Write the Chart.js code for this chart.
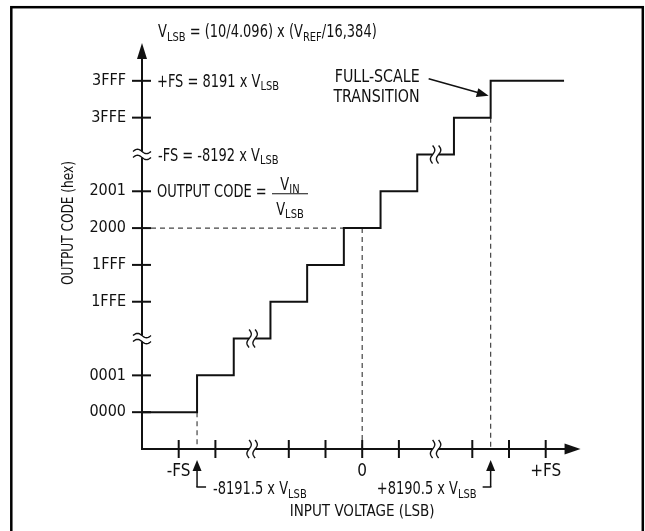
<!DOCTYPE html>
<html>
<head>
<meta charset="utf-8">
<script src="https://cdn.jsdelivr.net/npm/chart.js@4.4.0/dist/chart.umd.min.js"></script>
<style>
  html, body { margin: 0; padding: 0; background: #fff; }
  canvas { display: block; }
</style>
</head>
<body>
<canvas id="chart" width="645" height="531"></canvas>
<script>
// one slot per LSB step on both axes, '' slots hold the axis breaks
const codeLabels = ['0000', '0001', '', '1FFE', '1FFF', '2000', '2001', '', '3FFE', '3FFF'];
const codeBreaks = [2, 7];
const inputLabels = ['-FS', '', '', '', '', '0', '', '', '', '', '+FS'];
const inputBreaks = [2, 7];

// transfer function: input at which each new code starts
const transitions = [0.5, 1.5, 2.5, 3.5, 4.5, 5.5, 6.5, 7.5, 8.5];
const codes = [0, 1, 2, 3, 4, 5, 6, 7, 8, 9];
const inputStart = -1;
const inputEnd = 10.5;
const zeroInput = 5;
const midCode = 5;

// annotation text, [text, isSubscript]
const lsbFormula = [['V', 0], ['LSB', 1], [' = (10/4.096) x (V', 0], ['REF', 1], ['/16,384)', 0]];
const fsHighNote = [['+FS = 8191 x V', 0], ['LSB', 1]];
const fsLowNote = [['-FS = -8192 x V', 0], ['LSB', 1]];
const codeNote = [['OUTPUT CODE =', 0]];
const codeNum = [['V', 0], ['IN', 1]];
const codeDen = [['V', 0], ['LSB', 1]];
const firstNote = [['-8191.5 x V', 0], ['LSB', 1]];
const lastNote = [['+8190.5 x V', 0], ['LSB', 1]];
const fullScaleNote = ['FULL-SCALE', 'TRANSITION'];
const yTitle = 'OUTPUT CODE (hex)';

const FONT = '"DejaVu Sans Condensed", "Liberation Sans Narrow", sans-serif';
const INK = '#111';
const NARROW = 0.85;

// staircase corners
const stairs = [{ x: inputStart, y: codes[0] }];
transitions.forEach((t, i) => {
  stairs.push({ x: t, y: codes[i] });
  stairs.push({ x: t, y: codes[i + 1] });
});
stairs.push({ x: inputEnd, y: codes[codes.length - 1] });

const last = transitions.length - 1;
const dashed = (pts) => ({
  data: pts,
  showLine: true,
  borderColor: '#444',
  borderWidth: 1.2,
  borderDash: [5, 4],
  pointRadius: 0,
  clip: false
});

// text with subscripts, squeezed horizontally to look like a condensed face
function richText(ctx, parts, x, y, size, align, sx = NARROW) {
  const subSize = Math.round(size * 0.75);
  let w = 0;
  parts.forEach(([t, s]) => {
    ctx.font = (s ? subSize : size) + 'px ' + FONT;
    w += ctx.measureText(t).width * sx;
  });
  const x0 = align === 'right' ? x - w : align === 'center' ? x - w / 2 : x;
  const base = y + size * 0.36;
  ctx.save();
  ctx.translate(x0, 0);
  ctx.scale(sx, 1);
  ctx.textAlign = 'left';
  ctx.textBaseline = 'alphabetic';
  let cx = 0;
  parts.forEach(([t, s]) => {
    ctx.font = (s ? subSize : size) + 'px ' + FONT;
    ctx.fillText(t, cx, s ? base + size * 0.2 : base);
    cx += ctx.measureText(t).width;
  });
  ctx.restore();
}

function seg(ctx, x1, y1, x2, y2) {
  ctx.beginPath();
  ctx.moveTo(x1, y1);
  ctx.lineTo(x2, y2);
  ctx.stroke();
}

function head(ctx, x, y, ang, len, half) {
  ctx.save();
  ctx.translate(x, y);
  ctx.rotate(ang);
  ctx.beginPath();
  ctx.moveTo(0, 0);
  ctx.lineTo(-len, -half);
  ctx.lineTo(-len, half);
  ctx.closePath();
  ctx.fill();
  ctx.restore();
}

// break mark: two wavy strokes across a line
function breakMark(ctx, cx, cy, across) {
  ctx.save();
  ctx.fillStyle = '#fff';
  if (across === 'v') ctx.fillRect(cx - 3, cy - 2, 6, 4);
  else ctx.fillRect(cx - 2, cy - 3, 4, 6);
  ctx.lineWidth = 1.4;
  [-3, 3].forEach(off => {
    ctx.beginPath();
    for (let k = 0; k <= 20; k++) {
      const t = -1 + k / 10;
      let px, py;
      if (across === 'v') { px = cx + off - 2.2 * Math.sin(Math.PI * t); py = cy + 9 * t; }
      else { px = cx + 9 * t; py = cy + off + 2.2 * Math.sin(Math.PI * t); }
      if (k === 0) ctx.moveTo(px, py); else ctx.lineTo(px, py);
    }
    ctx.stroke();
  });
  ctx.restore();
}

const drawing = {
  id: 'drawing',
  beforeDraw(chart) {
    const { ctx, width, height } = chart;
    ctx.save();
    ctx.fillStyle = '#fff';
    ctx.fillRect(0, 0, width, height);
    ctx.restore();
  },
  afterDatasetsDraw(chart) {
    const { ctx, scales: { x, y } } = chart;
    const px = v => x.getPixelForValue(v);
    const py = v => y.getPixelForValue(v);
    const ox = px(-1), oy = py(-1);
    ctx.save();
    ctx.strokeStyle = INK;
    ctx.fillStyle = INK;
    ctx.lineWidth = 2;

    // axes with arrows
    const xTip = px(10.95), yTip = py(10.03);
    seg(ctx, ox, oy, xTip - 12, oy);
    seg(ctx, ox, oy + 1, ox, yTip + 12);
    head(ctx, xTip, oy, 0, 16, 5.5);
    head(ctx, ox, yTip, -Math.PI / 2, 16, 5);

    inputLabels.forEach((_, i) => {
      if (!inputBreaks.includes(i)) seg(ctx, px(i), oy - 9, px(i), oy + 9);
    });
    codeLabels.forEach((_, i) => {
      if (!codeBreaks.includes(i)) seg(ctx, ox - 10, py(i), ox + 9, py(i));
    });
    inputBreaks.forEach(i => breakMark(ctx, px(i), oy, 'v'));
    codeBreaks.forEach(i => breakMark(ctx, ox, py(i), 'h'));
    codeBreaks.forEach(i => breakMark(ctx, px(i), py(i), 'v'));

    // y title
    ctx.save();
    ctx.translate(69, 223);
    ctx.rotate(-Math.PI / 2);
    ctx.scale(0.9, 1);
    ctx.font = '15px ' + FONT;
    ctx.textAlign = 'center';
    ctx.textBaseline = 'middle';
    ctx.fillText(yTitle, 0, 0);
    ctx.restore();

    // notes
    const size = 17;
    richText(ctx, lsbFormula, ox + 16, y.top - 13, size, 'left');
    richText(ctx, fsHighNote, ox + 15, py(codes[9]), size, 'left');
    richText(ctx, fsLowNote, ox + 16, py(codeBreaks[1]), size, 'left');
    richText(ctx, codeNote, ox + 15, py(codes[6]), size, 'left');
    const fx = ox + 148, fy = py(codes[6]) + 2.5;
    richText(ctx, codeNum, fx, fy - 10, size, 'center');
    richText(ctx, codeDen, fx, fy + 15, size, 'center');
    ctx.lineWidth = 1.2;
    seg(ctx, fx - 18, fy, fx + 18, fy);

    // full-scale transition callout
    const tx = px(transitions[last]);
    richText(ctx, [[fullScaleNote[0], 0]], tx - 71, py(codes[9]) - 5, size, 'right', 0.93);
    richText(ctx, [[fullScaleNote[1], 0]], tx - 71, py(codes[9]) + 15, size, 'right', 0.93);
    ctx.lineWidth = 1.5;
    const ax = tx - 2, ay = py(codes[9]) + 15;
    seg(ctx, tx - 62, py(codes[9]) - 2, ax - 10, ay - 3);
    head(ctx, ax, ay, Math.atan2(17, 60), 12, 4.5);

    // transition pointers under the axis
    ctx.lineWidth = 1.5;
    const f0 = px(transitions[0]);
    seg(ctx, f0, oy + 20, f0, oy + 38);
    seg(ctx, f0 - 0.7, oy + 38, f0 + 9, oy + 38);
    head(ctx, f0, oy + 11, -Math.PI / 2, 11, 4.5);
    richText(ctx, firstNote, f0 + 16, oy + 39, size, 'left');
    const f1 = px(transitions[last]);
    seg(ctx, f1, oy + 20, f1, oy + 38);
    seg(ctx, f1 + 0.7, oy + 38, f1 - 8, oy + 38);
    head(ctx, f1, oy + 11, -Math.PI / 2, 11, 4.5);
    richText(ctx, lastNote, f1 - 14, oy + 39, size, 'right');

    // frame
    ctx.lineWidth = 2.5;
    ctx.strokeStyle = '#000';
    ctx.strokeRect(11.3, 7.2, 631.5, 560);
    ctx.restore();
  }
};

new Chart(document.getElementById('chart'), {
  type: 'scatter',
  data: {
    datasets: [
      {
        data: stairs,
        showLine: true,
        borderColor: INK,
        borderWidth: 2,
        pointRadius: 0,
        clip: false
      },
      dashed([{ x: inputStart, y: midCode }, { x: transitions[midCode - 1], y: midCode }]),
      dashed([{ x: zeroInput, y: midCode }, { x: zeroInput, y: -1 }]),
      dashed([{ x: transitions[0], y: codes[0] }, { x: transitions[0], y: -1 }]),
      dashed([{ x: transitions[last], y: codes[last] }, { x: transitions[last], y: -1 }])
    ]
  },
  options: {
    responsive: false,
    animation: false,
    events: [],
    layout: { padding: { left: 20, top: 44, right: 62.6, bottom: 10 } },
    plugins: { legend: { display: false }, tooltip: { enabled: false } },
    scales: {
      x: {
        type: 'linear',
        min: -1,
        max: 11,
        grid: { display: false, drawTicks: false, tickLength: 0 },
        border: { display: false },
        afterBuildTicks: s => { s.ticks = inputLabels.map((_, i) => ({ value: i })); },
        afterFit: s => { s.height = 72; },
        ticks: {
          autoSkip: false,
          maxRotation: 0,
          padding: 12,
          color: INK,
          font: { family: FONT, size: 17 },
          callback: v => inputLabels[v] || ''
        },
        title: {
          display: true,
          text: 'INPUT VOLTAGE (LSB)',
          color: INK,
          font: { family: FONT, size: 15 },
          padding: { top: 0, bottom: 0 }
        }
      },
      y: {
        type: 'linear',
        min: -1,
        max: 10,
        grid: { display: false, drawTicks: false, tickLength: 0 },
        border: { display: false },
        afterBuildTicks: s => { s.ticks = codeLabels.map((_, i) => ({ value: i })); },
        afterFit: s => { s.width = 122; },
        ticks: {
          autoSkip: false,
          padding: 16,
          color: INK,
          font: { family: FONT, size: 16 },
          callback: v => codeLabels[v] || ''
        }
      }
    }
  },
  plugins: [drawing]
});
</script>
</body>
</html>
